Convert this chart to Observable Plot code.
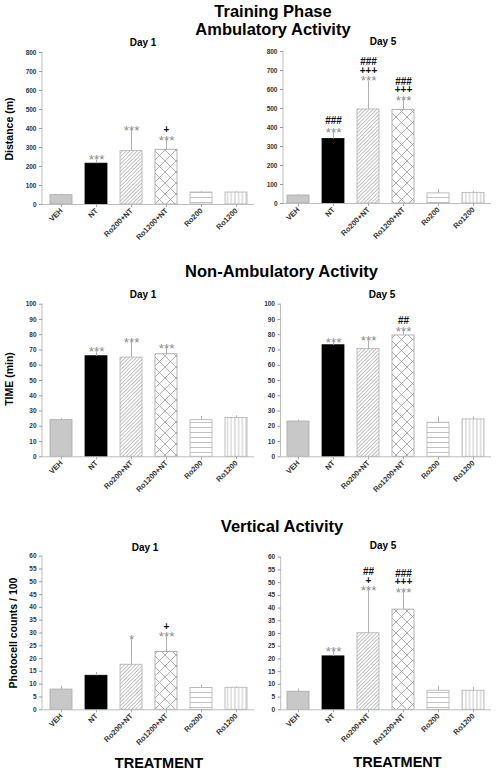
<!DOCTYPE html>
<html><head><meta charset="utf-8">
<script src="https://cdn.jsdelivr.net/npm/d3@7"></script>
<script src="https://cdn.jsdelivr.net/npm/@observablehq/plot@0.6"></script>
<style>
body{margin:0;background:#fff;}
#root{position:relative;width:497px;height:772px;overflow:hidden;font-family:"Liberation Sans",Arial,sans-serif;}
.t{position:absolute;white-space:nowrap;line-height:1;font-weight:bold;color:#000;transform:translateX(-50%);}
.yl{position:absolute;white-space:nowrap;line-height:1;font-weight:bold;font-size:10.5px;transform:translate(-50%,-50%) rotate(-90deg);}
.panel{position:absolute;}
</style></head><body><div id="root"></div>
<script>
const treatments = ["VEH", "NT", "Ro200+NT", "Ro1200+NT", "Ro200", "Ro1200"];

const ambTicks = [0, 100, 200, 300, 400, 500, 600, 700, 800];
const nonAmbTicks = [0, 10, 20, 30, 40, 50, 60, 70, 80, 90, 100];
const vertTicks = [0, 5, 10, 15, 20, 25, 30, 35, 40, 45, 50, 55, 60];

const ambDay1Mean = [49, 215, 281, 288, 63, 63];
const ambDay1Sem = [5, 20, 109, 50, 5, 4];
const ambDay1Stars = ["", "***", "***", "***", "", ""];
const ambDay1Plus = ["", "", "", "+", "", ""];
const ambDay1Hash = ["", "", "", "", "", ""];

const ambDay5Mean = [42, 339, 495, 493, 53, 56];
const ambDay5Sem = [4, 35, 150, 50, 22, 7];
const ambDay5Stars = ["", "***", "***", "***", "", ""];
const ambDay5Plus = ["", "", "+++", "+++", "", ""];
const ambDay5Hash = ["", "###", "###", "###", "", ""];

const nonAmbDay1Mean = [24, 65.9, 65, 67.2, 24, 25.5];
const nonAmbDay1Sem = [1, 3, 10, 4, 2.4, 1.4];
const nonAmbDay1Stars = ["", "***", "***", "***", "", ""];
const nonAmbDay1Plus = ["", "", "", "", "", ""];
const nonAmbDay1Hash = ["", "", "", "", "", ""];

const nonAmbDay5Mean = [23.1, 73.1, 70.7, 79.5, 22.3, 24.5];
const nonAmbDay5Sem = [1, 2, 5.5, 2.5, 4, 1.5];
const nonAmbDay5Stars = ["", "***", "***", "***", "", ""];
const nonAmbDay5Plus = ["", "", "", "", "", ""];
const nonAmbDay5Hash = ["", "", "", "##", "", ""];

const vertDay1Mean = [7.9, 13.3, 17.6, 22.6, 8.5, 8.6];
const vertDay1Sem = [1.3, 1.3, 9.7, 6, 1.1, 0.4];
const vertDay1Stars = ["", "", "*", "***", "", ""];
const vertDay1Plus = ["", "", "", "+", "", ""];
const vertDay1Hash = ["", "", "", "", "", ""];

const vertDay5Mean = [7.1, 21, 30.1, 39.4, 7.5, 7.5];
const vertDay5Sem = [1, 2, 16.8, 6.8, 1.8, 1.3];
const vertDay5Stars = ["", "***", "***", "***", "", ""];
const vertDay5Plus = ["", "", "+", "+++", "", ""];
const vertDay5Hash = ["", "", "##", "###", "", ""];

const FONT = '"Liberation Sans", Arial, sans-serif';
const root = document.getElementById("root");

function addText(txt, cls, x, y, size) {
  const d = document.createElement("div");
  d.className = cls;
  d.textContent = txt;
  d.style.left = x + "px";
  if (cls === "t") {
    d.style.fontSize = size + "px";
    d.style.top = (y - 0.847 * size) + "px";
  } else {
    d.style.top = y + "px";
  }
  root.appendChild(d);
}

function panel(cfg) {
  const {id, mean, sem, stars, plus, hash, yMax, ticks, left, top, width, height, axisX, bandStart, lineEnd, y0, yTop} = cfg;
  const data = treatments.map((t, i) => ({t, v: mean[i], e: mean[i] + sem[i], s: stars[i], p: plus[i], h: hash[i]}));
  const fillFor = {
    "VEH": "#c8c8c8",
    "NT": "#000000",
    "Ro200+NT": `url(#${id}-diag)`,
    "Ro1200+NT": `url(#${id}-cross)`,
    "Ro200": `url(#${id}-horiz)`,
    "Ro1200": `url(#${id}-vert)`
  };
  const strokeFor = {"VEH": "#a8a8a8", "NT": "#000000", "Ro200+NT": "#b0b0b0", "Ro1200+NT": "#a0a0a0", "Ro200": "#b0b0b0", "Ro1200": "#b0b0b0"};
  const step = 35.3;
  const xr0 = bandStart - left;
  const mLeft = axisX - left;
  const mRight = left + width - lineEnd;
  const mTop = yTop - top;
  const mBottom = top + height - y0;

  const defsMark = () => {
    const defs = d3.create("svg:defs");
    const p1 = defs.append("pattern").attr("id", `${id}-diag`).attr("patternUnits", "userSpaceOnUse")
      .attr("width", 2.6).attr("height", 2.6).attr("patternTransform", "rotate(45)");
    p1.append("rect").attr("width", 2.6).attr("height", 2.6).attr("fill", "#fff");
    p1.append("line").attr("x1", 1.3).attr("x2", 1.3).attr("y1", 0).attr("y2", 2.6).attr("stroke", "#b4b4b4").attr("stroke-width", 0.8);
    const p2 = defs.append("pattern").attr("id", `${id}-cross`).attr("patternUnits", "userSpaceOnUse")
      .attr("width", 11).attr("height", 11);
    p2.append("rect").attr("width", 11).attr("height", 11).attr("fill", "#fff");
    p2.append("path").attr("d", "M0,0L11,11M11,0L0,11").attr("stroke", "#9a9a9a").attr("stroke-width", 0.8).attr("fill", "none");
    const p3 = defs.append("pattern").attr("id", `${id}-horiz`).attr("patternUnits", "userSpaceOnUse")
      .attr("width", 4).attr("height", 5);
    p3.append("rect").attr("width", 4).attr("height", 5).attr("fill", "#fff");
    p3.append("line").attr("x1", 0).attr("x2", 4).attr("y1", 2.5).attr("y2", 2.5).attr("stroke", "#b4b4b4").attr("stroke-width", 0.8);
    const p4 = defs.append("pattern").attr("id", `${id}-vert`).attr("patternUnits", "userSpaceOnUse")
      .attr("width", 3.7).attr("height", 4);
    p4.append("rect").attr("width", 3.7).attr("height", 4).attr("fill", "#fff");
    p4.append("line").attr("x1", 1.85).attr("x2", 1.85).attr("y1", 0).attr("y2", 4).attr("stroke", "#b4b4b4").attr("stroke-width", 0.8);
    return defs.node();
  };
  const yAxisLine = () => d3.create("svg:line").attr("x1", mLeft).attr("x2", mLeft)
    .attr("y1", mTop).attr("y2", height - mBottom).attr("stroke", "#bdbdbd").node();

  const svg = Plot.plot({
    width, height,
    marginLeft: mLeft, marginRight: mRight, marginTop: mTop, marginBottom: mBottom,
    style: {fontFamily: FONT, fontSize: "7px", fontWeight: "bold", background: "transparent", overflow: "visible", color: "#222"},
    x: {domain: treatments, range: [xr0, xr0 + 6 * step], paddingInner: 0.38, paddingOuter: 0.19, align: 0.5, label: null},
    y: {domain: [0, yMax], label: null},
    color: {type: "identity"},
    marks: [
      defsMark,
      Plot.barY(data, {x: "t", y: "v", fill: d => fillFor[d.t], stroke: d => strokeFor[d.t], strokeWidth: 0.8}),
      Plot.ruleX(data, {x: "t", y1: "v", y2: "e", stroke: "#b0b0b0", strokeWidth: 1}),
      Plot.ruleY([0], {stroke: "#bdbdbd"}),
      yAxisLine,
      Plot.axisY({ticks, tickSize: 3, tickPadding: 3, fontSize: 6.5, stroke: "#999", fill: "#333", label: null}),
      Plot.axisX({tickRotate: -45, tickSize: 3, tickPadding: 2, fontSize: 7.5, stroke: "#aaa", fill: "#333", label: null}),
      Plot.text(data.filter(d => d.s), {x: "t", y: "e", text: "s", lineAnchor: "bottom", dy: 4.5, fill: "#8a8a8a", fontSize: 13.5, fontWeight: "normal"}),
      Plot.text(data.filter(d => d.p), {x: "t", y: "e", text: "p", lineAnchor: "bottom", dy: -7, fill: "#111", fontSize: 10, fontWeight: "bold"}),
      Plot.text(data.filter(d => d.h && d.p), {x: "t", y: "e", text: "h", lineAnchor: "bottom", dy: -15.5, fill: "#111", fontSize: 10, fontWeight: "bold"}),
      Plot.text(data.filter(d => d.h && !d.p), {x: "t", y: "e", text: "h", lineAnchor: "bottom", dy: -8, fill: "#111", fontSize: 10, fontWeight: "bold"})
    ]
  });
  svg.classList.add("panel");
  svg.style.left = left + "px";
  svg.style.top = top + "px";
  svg.style.position = "absolute";
  root.appendChild(svg);
}

panel({id: "a1", mean: ambDay1Mean, sem: ambDay1Sem, stars: ambDay1Stars, plus: ambDay1Plus, hash: ambDay1Hash,
  yMax: 800, ticks: ambTicks, left: 0, top: 40, width: 258, height: 215, axisX: 42, bandStart: 42.4, lineEnd: 254, y0: 204, yTop: 52});
panel({id: "a5", mean: ambDay5Mean, sem: ambDay5Sem, stars: ambDay5Stars, plus: ambDay5Plus, hash: ambDay5Hash,
  yMax: 800, ticks: ambTicks, left: 242, top: 40, width: 255, height: 215, axisX: 283, bandStart: 279.4, lineEnd: 491, y0: 203, yTop: 51});
panel({id: "n1", mean: nonAmbDay1Mean, sem: nonAmbDay1Sem, stars: nonAmbDay1Stars, plus: nonAmbDay1Plus, hash: nonAmbDay1Hash,
  yMax: 100, ticks: nonAmbTicks, left: 0, top: 290, width: 258, height: 215, axisX: 42, bandStart: 42.4, lineEnd: 254, y0: 456.3, yTop: 303.7});
panel({id: "n5", mean: nonAmbDay5Mean, sem: nonAmbDay5Sem, stars: nonAmbDay5Stars, plus: nonAmbDay5Plus, hash: nonAmbDay5Hash,
  yMax: 100, ticks: nonAmbTicks, left: 242, top: 290, width: 255, height: 215, axisX: 280.5, bandStart: 279.4, lineEnd: 491, y0: 456.3, yTop: 303.7});
panel({id: "v1", mean: vertDay1Mean, sem: vertDay1Sem, stars: vertDay1Stars, plus: vertDay1Plus, hash: vertDay1Hash,
  yMax: 60, ticks: vertTicks, left: 0, top: 545, width: 258, height: 210, axisX: 42, bandStart: 42.4, lineEnd: 254, y0: 709.3, yTop: 555.7});
panel({id: "v5", mean: vertDay5Mean, sem: vertDay5Sem, stars: vertDay5Stars, plus: vertDay5Plus, hash: vertDay5Hash,
  yMax: 60, ticks: vertTicks, left: 242, top: 545, width: 255, height: 210, axisX: 280.7, bandStart: 279.4, lineEnd: 491, y0: 709.3, yTop: 556.7});

addText("Training Phase", "t", 273, 17, 16.5);
addText("Ambulatory Activity", "t", 273, 35, 16.5);
addText("Non-Ambulatory Activity", "t", 281.5, 277, 16.5);
addText("Vertical Activity", "t", 282, 532, 16.5);
addText("Day 1", "t", 143, 46, 10);
addText("Day 5", "t", 383, 45, 10);
addText("Day 1", "t", 143, 298, 10);
addText("Day 5", "t", 382, 298, 10);
addText("Day 1", "t", 145, 551, 10);
addText("Day 5", "t", 383, 549, 10);
addText("TREATMENT", "t", 159, 768, 14.5);
addText("TREATMENT", "t", 397.5, 767, 14.5);
addText("Distance (m)", "yl", 9, 129);
addText("TIME (min)", "yl", 9, 379);
addText("Photocell counts / 100", "yl", 12.5, 633);
</script>
</body></html>
